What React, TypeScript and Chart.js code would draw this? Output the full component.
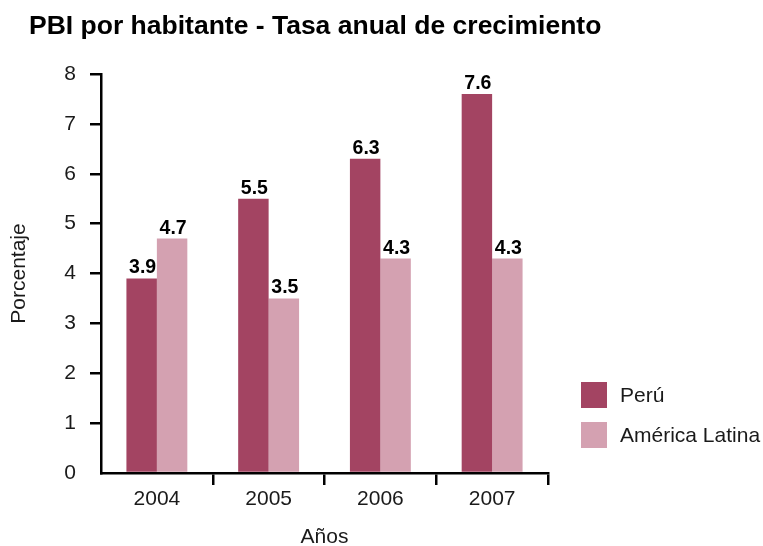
import React, { useEffect, useRef } from "react";
import { Chart, registerables } from "chart.js";

Chart.register(...registerables);

const categories = ["2004", "2005", "2006", "2007"];
const peru = [3.9, 5.5, 6.3, 7.6];
const americaLatina = [4.7, 3.5, 4.3, 4.3];
const seriesNames = ["Perú", "América Latina"];
const seriesColors = ["#A34462", "#D4A1B1"];
const titleText = "PBI por habitante - Tasa anual de crecimiento";
const yTitle = "Porcentaje";
const xTitle = "Años";

const FONT = "'Liberation Sans', Arial, sans-serif";

const overlayPlugin = {
  id: "overlay",
  afterDraw(chart: any) {
    const ctx = chart.ctx;
    ctx.save();
    // title
    ctx.fillStyle = "#000";
    ctx.font = `bold 26.5px ${FONT}`;
    ctx.textAlign = "left";
    ctx.textBaseline = "alphabetic";
    ctx.fillText(titleText, 29, 34);
    // data labels
    ctx.font = `bold 19.5px ${FONT}`;
    ctx.textAlign = "center";
    chart.data.datasets.forEach((ds: any, di: number) => {
      const meta = chart.getDatasetMeta(di);
      meta.data.forEach((bar: any, i: number) => {
        ctx.fillText(String(ds.data[i].toFixed(1)), bar.x + 1, bar.y - 5);
      });
    });
    // legend
    ctx.font = `21px ${FONT}`;
    ctx.textAlign = "left";
    ctx.textBaseline = "middle";
    seriesNames.forEach((name, i) => {
      const y = 382 + i * 40;
      ctx.fillStyle = seriesColors[i];
      ctx.fillRect(581, y, 26, 26);
      ctx.fillStyle = "#1a1a1a";
      ctx.fillText(name, 620, y + 14);
    });
    ctx.restore();
  },
};

export default function App() {
  const ref = useRef<HTMLCanvasElement>(null);
  useEffect(() => {
    document.body.style.margin = "0";
    const chart = new Chart(ref.current!, {
      type: "bar",
      data: {
        labels: categories,
        datasets: [
          { label: seriesNames[0], data: peru, backgroundColor: seriesColors[0], categoryPercentage: 0.545, barPercentage: 1 },
          { label: seriesNames[1], data: americaLatina, backgroundColor: seriesColors[1], categoryPercentage: 0.545, barPercentage: 1 },
        ],
      },
      options: {
        animation: false,
        responsive: true,
        maintainAspectRatio: false,
        layout: { padding: { top: 74, right: 215, left: 0, bottom: 0 } },
        plugins: { legend: { display: false }, title: { display: false }, tooltip: { enabled: false } },
        scales: {
          x: {
            offset: true,
            grid: {
              offset: true,
              drawOnChartArea: false,
              drawTicks: true,
              tickLength: 12,
              lineWidth: 2.5,
              color: (c: any) => (c.index === 0 ? "rgba(0,0,0,0)" : "#000"),
            },
            border: { display: true, color: "#000", width: 2.5 },
            ticks: { color: "#1a1a1a", font: { family: FONT, size: 21 }, padding: 2 },
            title: { display: true, text: xTitle, color: "#1a1a1a", font: { family: FONT, size: 21, lineHeight: 0.85 }, padding: { top: 0, bottom: 0 } },
            afterFit: (s: any) => { s.height = 73; },
          },
          y: {
            min: 0,
            max: 8,
            ticks: { stepSize: 1, color: "#1a1a1a", font: { family: FONT, size: 21 }, padding: 14 },
            grid: {
              drawOnChartArea: false,
              drawTicks: true,
              tickLength: 11,
              lineWidth: 2.5,
              color: (c: any) => (c.tick && c.tick.value === 0 ? "rgba(0,0,0,0)" : "#000"),
            },
            border: { display: true, color: "#000", width: 2.5 },
            title: { display: true, text: yTitle, color: "#1a1a1a", font: { family: FONT, size: 21, lineHeight: 1 }, padding: { top: 9, bottom: 0 } },
            afterFit: (s: any) => { s.width = 101; },
          },
        },
      },
      plugins: [overlayPlugin],
    });
    return () => chart.destroy();
  }, []);
  return (
    <div style={{ position: "absolute", left: 0, top: 0, width: 763, height: 546 }}>
      <canvas ref={ref} />
    </div>
  );
}
